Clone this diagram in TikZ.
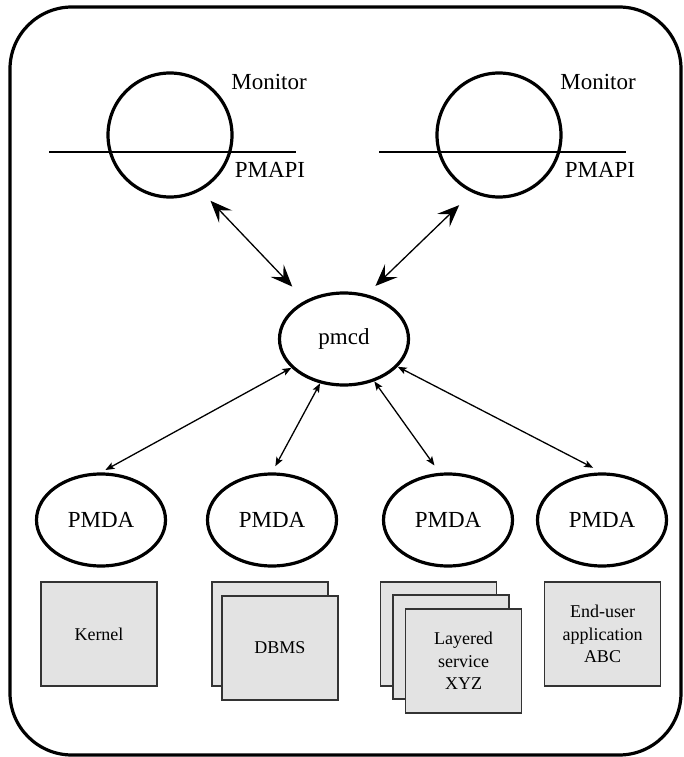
\documentclass[tikz,border=0pt]{standalone}
\usepackage{fontspec}
\setmainfont{LiberationSerif-Regular.ttf}
\usetikzlibrary{shapes.geometric, arrows.meta}
\tikzstyle{monitor} = [circle, draw=black, line width=3.2pt, minimum size=124pt, inner sep=0pt]
\tikzstyle{daemon} = [ellipse, draw=black, line width=3.2pt, minimum width=129pt, minimum height=92pt, inner sep=0pt, font=\fontsize{23}{27}\selectfont]
\tikzstyle{tag} = [inner sep=0pt, font=\fontsize{23}{27}\selectfont]
\tikzstyle{agent} = [rectangle, draw=black!80, line width=1.2pt, fill=black!11, minimum width=116pt, minimum height=104pt, align=center, font=\fontsize{18}{22.5}\selectfont]
\tikzstyle{apiline} = [line width=1.3pt]
\tikzstyle{bigarrow} = [line width=1.3pt, {Stealth[length=22pt,width=18pt,inset=9pt]}-{Stealth[length=22pt,width=18pt,inset=9pt]}]
\tikzstyle{arrow} = [line width=1.3pt, {Stealth[length=9pt,width=7pt,inset=2pt]}-{Stealth[length=9pt,width=7pt,inset=2pt]}]

\begin{document}
\begin{tikzpicture}[x=1pt, y=-1pt]
    \useasboundingbox (0,0) rectangle (683,757);
    \draw [line width=3.2pt, rounded corners=62pt] (10,7) rectangle (681,755);

    % monitors
    \node (mon1) [monitor] at (170,135) {};
    \node (mon2) [monitor] at (499,135) {};
    \draw [apiline] ([shift={(-121,17)}]mon1.center) -- ([shift={(126,17)}]mon1.center);
    \draw [apiline] ([shift={(-120,17)}]mon2.center) -- ([shift={(127,17)}]mon2.center);
    \node (mon1name) [tag] at ([shift={(99,-53)}]mon1.center) {Monitor};
    \node (mon1api) [tag] at ([shift={(100,35)}]mon1.center) {PMAPI};
    \node (mon2name) [tag] at ([shift={(99,-53)}]mon2.center) {Monitor};
    \node (mon2api) [tag] at ([shift={(101,35)}]mon2.center) {PMAPI};

    % collector and agents
    \node (pmcd) [daemon] at (344,339) {pmcd};
    \node (pmda1) [daemon] at (101,520) {PMDA};
    \node (pmda2) [daemon] at (272,520) {PMDA};
    \node (pmda3) [daemon] at (448,520) {PMDA};
    \node (pmda4) [daemon] at (602,520) {PMDA};

    \node (kernel) [agent] at (99,634) {Kernel};
    \node (dbms1) [agent] at (270,634) {};
    \node (dbms) [agent] at (280,648) {DBMS};
    \node (lay1) [agent] at (438.5,634) {};
    \node (lay2) [agent] at (451,647) {};
    \node (lay) [agent] at (463.5,661) {Layered\\service\\XYZ};
    \node (app) [agent] at (602.5,634) {End-user\\application\\ABC};

    \draw [bigarrow, shorten <=14pt, shorten >=19pt] (mon1.-61) -- (pmcd.135);
    \draw [bigarrow, shorten <=18pt, shorten >=12pt] (mon2.-115) -- (pmcd.63);
    \draw [arrow, shorten >=5pt] (pmcd) -- (pmda1.north);
    \draw [arrow, shorten >=7pt] (pmcd) -- (pmda2.north);
    \draw [arrow, shorten >=9pt] (pmcd) -- (pmda3.100);
    \draw [arrow, shorten >=10pt] (pmcd) -- (pmda4.north);
\end{tikzpicture}
\end{document}
